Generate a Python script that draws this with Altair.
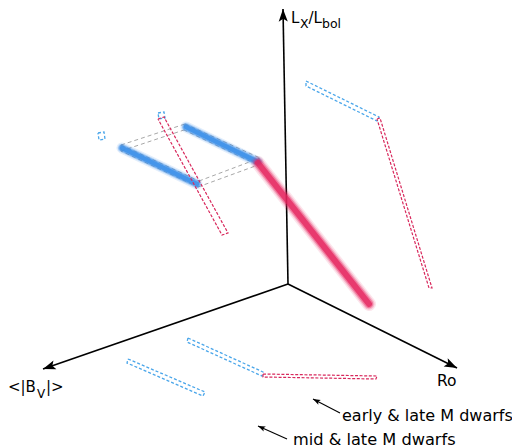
import math
import altair as alt
import pandas as pd

# ---------------- data (schematic coordinates, image-pixel units) ----------------
# 3D axes: origin and tips
axis_x0 = [288, 288, 288]
axis_y0 = [284, 284, 284]
axis_x1 = [283, 43, 457]
axis_y1 = [9, 369, 368]

# annotation arrows (tail -> tip)
ann_x0 = [340, 287]
ann_y0 = [413, 439]
ann_x1 = [313, 258]
ann_y1 = [399, 426]

# thick "real" relations
blue_thick_x0 = [122, 186]
blue_thick_y0 = [148, 127]
blue_thick_x1 = [197, 258]
blue_thick_y1 = [184, 162]
red_thick_x0 = [258]
red_thick_y0 = [163]
red_thick_x1 = [369]
red_thick_y1 = [304]

# dashed projections (closed outlines)
blue_shapes = {
    "sqA": ([98, 104, 105, 99, 98], [133, 132, 139, 140, 133]),
    "sqB": ([158, 164, 165, 159, 158], [113, 112, 118, 119, 113]),
    "wallR": ([306, 379, 377, 306, 306], [81, 117, 121, 86, 81]),
    "floor1": ([128, 205, 203, 127, 128], [359, 392, 396, 363, 359]),
    "floor2": ([188, 263, 262, 187, 188], [338, 372, 376, 342, 338]),
}
red_shapes = {
    "wallL": ([158, 164, 228, 222, 158], [119, 117, 233, 235, 119]),
    "wallR": ([377, 380, 432, 429, 377], [119, 118, 288, 288, 119]),
    "floor": ([263, 377, 376, 263, 263], [374, 376, 379, 377, 374]),
}
gray_shapes = {
    "band1": ([121, 199, 198, 121, 121], [145, 181, 187, 151, 145]),
    "band2": ([185, 260, 258, 184, 185], [124, 158, 165, 130, 124]),
    "top1": ([121, 185], [145, 124]),
    "top2": ([121, 184], [151, 130]),
    "bot1": ([199, 260], [181, 158]),
    "bot2": ([198, 258], [187, 165]),
}

# labels
label_text = ["L", "X", "/L", "bol", "<|B", "V", "|>", "Ro",
              "early & late M dwarfs", "mid & late M dwarfs"]
label_x = [291, 300, 308.5, 322, 8, 37, 46, 437, 342, 293]
label_y = [22.5, 27.5, 22.5, 27.5, 392, 398, 392, 386, 421, 445]
label_size = [15, 12.5, 15, 12.5, 15, 12, 15, 15.5, 16, 16.2]

# ---------------- helpers ----------------
XS = alt.Scale(domain=[8, 512], nice=False, zero=False)
YS = alt.Scale(domain=[8, 448], nice=False, zero=False, reverse=True)


def xe(f="x"):
    return alt.X(f"{f}:Q", scale=XS, axis=None)


def ye(f="y"):
    return alt.Y(f"{f}:Q", scale=YS, axis=None)


def seg_df(x0, y0, x1, y1):
    return pd.DataFrame({"x": x0, "y": y0, "x2": x1, "y2": y1})


def shapes_df(shapes):
    rows = []
    for name, (xs, ys) in shapes.items():
        for i, (a, b) in enumerate(zip(xs, ys)):
            rows.append({"shape": name, "i": i, "x": a, "y": b})
    return pd.DataFrame(rows)


def heads_df(x0, y0, x1, y1):
    ang = []
    for a, b, c, d in zip(x0, y0, x1, y1):
        dx, dy = c - a, d - b
        ang.append(math.degrees(math.atan2(dx, -dy)) % 360)
    return pd.DataFrame({"x": x1, "y": y1, "ang": ang})


ARROW = "M0,0 L-0.36,1 L0,0.78 L0.36,1 Z"


def rules(df, color, width, opacity=1.0, cap="butt"):
    return alt.Chart(df).mark_rule(color=color, strokeWidth=width, opacity=opacity,
                                   strokeCap=cap).encode(
        x=xe(), y=ye(), x2=alt.X2("x2:Q"), y2=alt.Y2("y2:Q"))


def outlines(df, color, width, dash):
    return alt.Chart(df).mark_line(color=color, strokeWidth=width, strokeDash=dash,
                                   strokeJoin="miter").encode(
        x=xe(), y=ye(), detail="shape:N", order="i:Q")


def heads(df, size):
    return alt.Chart(df).mark_point(shape=ARROW, filled=True, color="black",
                                    opacity=1, size=size, strokeWidth=0).encode(
        x=xe(), y=ye(), angle=alt.Angle("ang:Q", scale=None))


# ---------------- layers ----------------
axes_df = seg_df(axis_x0, axis_y0, axis_x1, axis_y1)
ann_df = seg_df(ann_x0, ann_y0, ann_x1, ann_y1)
blue_df = seg_df(blue_thick_x0, blue_thick_y0, blue_thick_x1, blue_thick_y1)
red_df = seg_df(red_thick_x0, red_thick_y0, red_thick_x1, red_thick_y1)

layers = []
layers.append(outlines(shapes_df(gray_shapes), "#a8a8a8", 1, [4, 3]))
layers.append(rules(axes_df, "black", 1.6))
layers.append(heads(heads_df(axis_x0, axis_y0, axis_x1, axis_y1), 640))
layers.append(rules(ann_df, "black", 1.1))
layers.append(heads(heads_df(ann_x0, ann_y0, ann_x1, ann_y1), 220))

for w, op in [(11, 0.15), (8.5, 0.3), (6.5, 0.5), (4.5, 0.8)]:
    layers.append(rules(blue_df, "#3a8ee8", w, op, "round"))
layers.append(outlines(shapes_df(blue_shapes), "#4aa6ea", 1.3, [3, 2]))
layers.append(outlines(shapes_df(red_shapes), "#d8285c", 1.2, [3, 1.6]))
for w, op in [(14, 0.12), (11, 0.22), (8.5, 0.4), (6, 0.75)]:
    layers.append(rules(red_df, "#e6245e", w, op, "round"))

text_df = pd.DataFrame({"t": label_text, "x": label_x, "y": label_y, "fs": label_size})
layers.append(alt.Chart(text_df).mark_text(align="left", baseline="alphabetic",
                                           font="DejaVu Sans", color="black").encode(
    x=xe(), y=ye(), text="t:N", size=alt.Size("fs:Q", scale=None)))

chart = alt.layer(*layers).properties(
    width=504, height=440, padding=0, autosize="none", background="white"
).configure_view(stroke=None)

chart.save("out.html", embed_options={"renderer": "svg", "actions": False})
